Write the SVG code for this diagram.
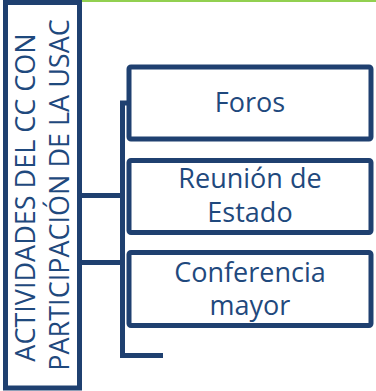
<svg xmlns="http://www.w3.org/2000/svg" width="376" height="391" viewBox="0 0 376 391">
<style>
.box{fill:#fff;stroke:#1F4070;stroke-width:5}
.ln{fill:none;stroke:#1F4070;stroke-width:5}
text{font-family:"Open Sans","Liberation Sans",sans-serif;font-size:27px;fill:#1F497D;text-anchor:middle}
</style>
<rect width="376" height="391" fill="#fff"/>
<line x1="80" y1="1" x2="376" y2="1" stroke="#92D050" stroke-width="2"/>
<g id="connectors">
<path class="ln" d="M128,103 H122.5 V355.5 H163"/>
<line class="ln" x1="80" y1="195.5" x2="122.5" y2="195.5"/>
<line class="ln" x1="80" y1="262.5" x2="122.5" y2="262.5"/>
</g>
<g id="root">
<rect class="box" x="5.5" y="2.5" width="74" height="385.5"/>
<text transform="translate(35,197.5) rotate(-90)">ACTIVIDADES DEL CC CON</text>
<text transform="translate(68.5,195) rotate(-90)">PARTICIPACIÓN DE LA USAC</text>
</g>
<g id="foros">
<rect class="box" x="129" y="67" width="242" height="72" rx="2"/>
<text x="250" y="112">Foros</text>
</g>
<g id="reunion">
<rect class="box" x="129" y="160.5" width="242" height="72" rx="2"/>
<text x="250" y="188.3">Reunión de</text>
<text x="250" y="222.3">Estado</text>
</g>
<g id="conferencia">
<rect class="box" x="129" y="252.5" width="242" height="73" rx="2"/>
<text x="250" y="281.7">Conferencia</text>
<text x="250" y="315">mayor</text>
</g>
</svg>
